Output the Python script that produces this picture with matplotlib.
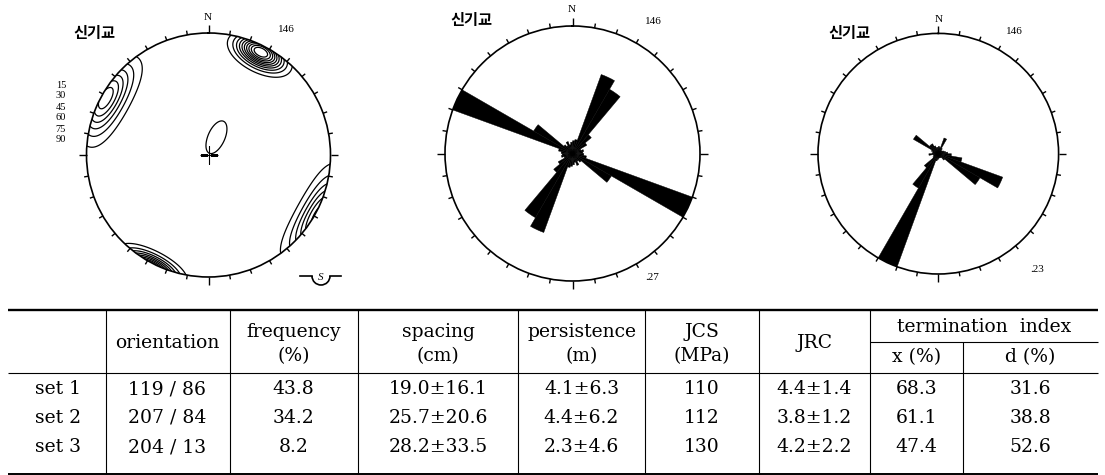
import numpy as np
import matplotlib
matplotlib.use("Agg")
import matplotlib.pyplot as plt
from matplotlib.patches import Arc

W, H = 1105, 475

# joint sets measured at the site (dip direction / dip)
set_names = ["set 1", "set 2", "set 3"]
dip_dir = [119, 207, 204]
dip = [86, 84, 13]
frequency = ["43.8", "34.2", "8.2"]
spacing = ["19.0±16.1", "25.7±20.6", "28.2±33.5"]
persistence = ["4.1±6.3", "4.4±6.2", "2.3±4.6"]
jcs = ["110", "112", "130"]
jrc = ["4.4±1.4", "3.8±1.2", "4.2±2.2"]
term_x = ["68.3", "61.1", "47.4"]
term_d = ["31.6", "38.8", "52.6"]

site_name = "신기교"
n_measured = 146

# pole density per set: relative peak and angular spread (deg) along / across plunge
pole_peak = [0.6, 1.0, 0.15]
spread_plunge = [10.5, 7.8, 11.5]
spread_across = [12.5, 7.8, 5.5]
contour_levels = [0.09, 0.18, 0.27, 0.36, 0.45, 0.54, 0.63, 0.72, 0.81, 0.9]
contour_labels = ["15", "30", "45", "60", "75", "90"]

# rose diagrams, 10 degree bins
bin_start = np.arange(0, 360, 10)
rose_axial_half = [0.027, 0.030, 0.178, 0.157, 0.052, 0.035, 0.019, 0.024, 0.022,
                   0.024, 0.030, 0.270, 0.095, 0.024, 0.019, 0.027, 0.019, 0.024]
rose_dipdir = [0.014, 0.012, 0.032, 0.012, 0.008, 0.009, 0.011, 0.014, 0.018,
               0.025, 0.046, 0.131, 0.092, 0.016, 0.009, 0.008, 0.008, 0.009,
               0.011, 0.014, 0.230, 0.076, 0.035, 0.012, 0.009, 0.010, 0.018,
               0.012, 0.010, 0.014, 0.055, 0.022, 0.022, 0.016, 0.012, 0.012]
rose_max = [0.27, 0.23]

serif = "Liberation Serif"
tab_font = "DejaVu Serif"
kr_font = ["Noto Sans CJK KR", "DejaVu Sans"]


def px_box(cx, cy, r):
    return [(cx - r) / W, 1 - (cy + r) / H, 2 * r / W, 2 * r / H]


def net_axes(fig, cx, cy, r, rmax):
    ax = fig.add_axes(px_box(cx, cy, r), projection="polar")
    ax.set_theta_zero_location("N")
    ax.set_theta_direction(-1)
    ax.set_ylim(0, rmax)
    ax.grid(False)
    ax.set_xticks([])
    ax.set_yticks([])
    ax.spines["polar"].set_linewidth(1.2)
    for az in range(0, 360, 10):
        ln = 0.065 if az % 90 == 0 else 0.035
        t = np.radians(az)
        ax.plot([t, t], [rmax, rmax * (1 + ln)], color="k", lw=1.0,
                clip_on=False, solid_capstyle="butt")
    return ax


fig = plt.figure(figsize=(W / 100, H / 100), dpi=100)

# --- pole contours (equal-area, lower hemisphere)
ax1 = net_axes(fig, 208.5, 155, 122, 1.0)
th = np.linspace(0, 2 * np.pi, 721)
rr = np.linspace(0, 1, 241)
TH, RR = np.meshgrid(th, rr)
plg = np.pi / 2 - 2 * np.arcsin(RR / np.sqrt(2))
v = np.stack([np.cos(plg) * np.sin(TH), np.cos(plg) * np.cos(TH), np.sin(plg)])
Z = np.zeros_like(RR)
for dd, dp, pk, sp, sa in zip(dip_dir, dip, pole_peak, spread_plunge, spread_across):
    tr = np.radians(dd + 180)
    pl = np.radians(90 - dp)
    m = np.array([np.cos(pl) * np.sin(tr), np.cos(pl) * np.cos(tr), np.sin(pl)])
    u = np.array([-np.sin(pl) * np.sin(tr), -np.sin(pl) * np.cos(tr), np.cos(pl)])
    w = np.array([np.cos(tr), -np.sin(tr), 0.0])
    sgn = np.where(np.tensordot(m, v, 1) >= 0, 1.0, -1.0)
    a = sgn * np.tensordot(u, v, 1)
    b = sgn * np.tensordot(w, v, 1)
    Z += pk * np.exp(-0.5 * ((a / np.radians(sp)) ** 2 + (b / np.radians(sa)) ** 2))
ax1.contour(TH, RR, Z, levels=contour_levels, colors="k", linewidths=0.9)
ax1.plot([0], [0], marker="+", color="k", ms=13, mew=0.8)

# --- rose of all joints (axial)
ax2 = net_axes(fig, 572.5, 153.5, 127.5, rose_max[0])
axial = np.array(rose_axial_half + rose_axial_half)
ax2.bar(np.radians(bin_start + 5), axial, width=np.radians(10), color="k",
        edgecolor="k", linewidth=0.3)

# --- rose of dip directions
ax3 = net_axes(fig, 938.3, 153.7, 120.3, rose_max[1])
ax3.bar(np.radians(bin_start + 5), rose_dipdir, width=np.radians(10), color="k",
        edgecolor="k", linewidth=0.3)

# --- overlay in pixel units: labels and table
ov = fig.add_axes([0, 0, 1, 1])
ov.set_xlim(0, W)
ov.set_ylim(H, 0)
ov.axis("off")

for (tx, ty), (nx, ny), (cx, cy) in zip([(94, 33), (471, 20), (849, 33)],
                                        [(208, 17), (572, 9), (939, 19)],
                                        [(286, 29), (653, 22), (1014, 31)]):
    ov.text(tx, ty, site_name, family=kr_font, fontsize=11, fontweight="bold",
            ha="center", va="center")
    ov.text(nx, ny, "N", family=serif, fontsize=8, ha="center", va="center")
    ov.text(cx, cy, str(n_measured), family=serif, fontsize=8, ha="center", va="center")

for lbl, (x, y) in zip(["." + str(round(m * 100)) for m in rose_max], [(652, 278), (1037, 269)]):
    ov.text(x, y, lbl, family=serif, fontsize=8, ha="center", va="center")

for i, lbl in enumerate(contour_labels):
    ov.text(61, 85 + 11 * i, lbl, family=serif, fontsize=7.5, ha="center", va="center")

# hemisphere mark
ov.plot([300, 312], [276, 276], color="k", lw=1.2)
ov.plot([330, 341], [276, 276], color="k", lw=1.2)
ov.add_patch(Arc((321, 276), 18, 18, theta1=0, theta2=180, color="k", lw=1.2))
ov.text(321, 278, "S", family=serif, fontsize=8, style="italic", ha="center", va="center")

# table
x0, x1 = 8, 1098
y_top, y_sub, y_head, y_bot = 309.5, 341.5, 372.5, 473.5
col_x = [105.5, 229.5, 357.5, 518, 645, 759, 870]
ov.hlines(y_top, x0, x1, color="k", lw=1.7)
ov.hlines(y_head, x0, x1, color="k", lw=0.8)
ov.hlines(y_bot, x0, x1, color="k", lw=1.4)
ov.hlines(y_sub, 870, x1, color="k", lw=0.8)
ov.vlines(col_x, y_top, y_bot, color="k", lw=0.8)
ov.vlines(963, y_sub, y_bot, color="k", lw=0.8)

tkw = dict(family=tab_font, fontsize=13.5, ha="center", va="center")
ov.text(167, 343, "orientation", **tkw)
for cxm, top, bottom in [(293.5, "frequency", "(%)"), (438, "spacing", "(cm)"),
                         (581.5, "persistence", "(m)"), (702, "JCS", "(MPa)")]:
    ov.text(cxm, 332, top, **tkw)
    ov.text(cxm, 356, bottom, **tkw)
ov.text(814.5, 343, "JRC", **tkw)
ov.text(984, 327, "termination  index", **tkw)
ov.text(916.5, 357, "x (%)", **tkw)
ov.text(1030.5, 357, "d (%)", **tkw)

row_y = [389, 418, 447]
centers = [58, 167, 293.5, 438, 581.5, 702, 814.5, 916.5, 1030.5]
for i, y in enumerate(row_y):
    cells = [set_names[i], f"{dip_dir[i]} / {dip[i]}", frequency[i], spacing[i],
             persistence[i], jcs[i], jrc[i], term_x[i], term_d[i]]
    for cxm, s in zip(centers, cells):
        ov.text(cxm, y, s, **tkw)

fig.savefig("out.png", dpi=100)
